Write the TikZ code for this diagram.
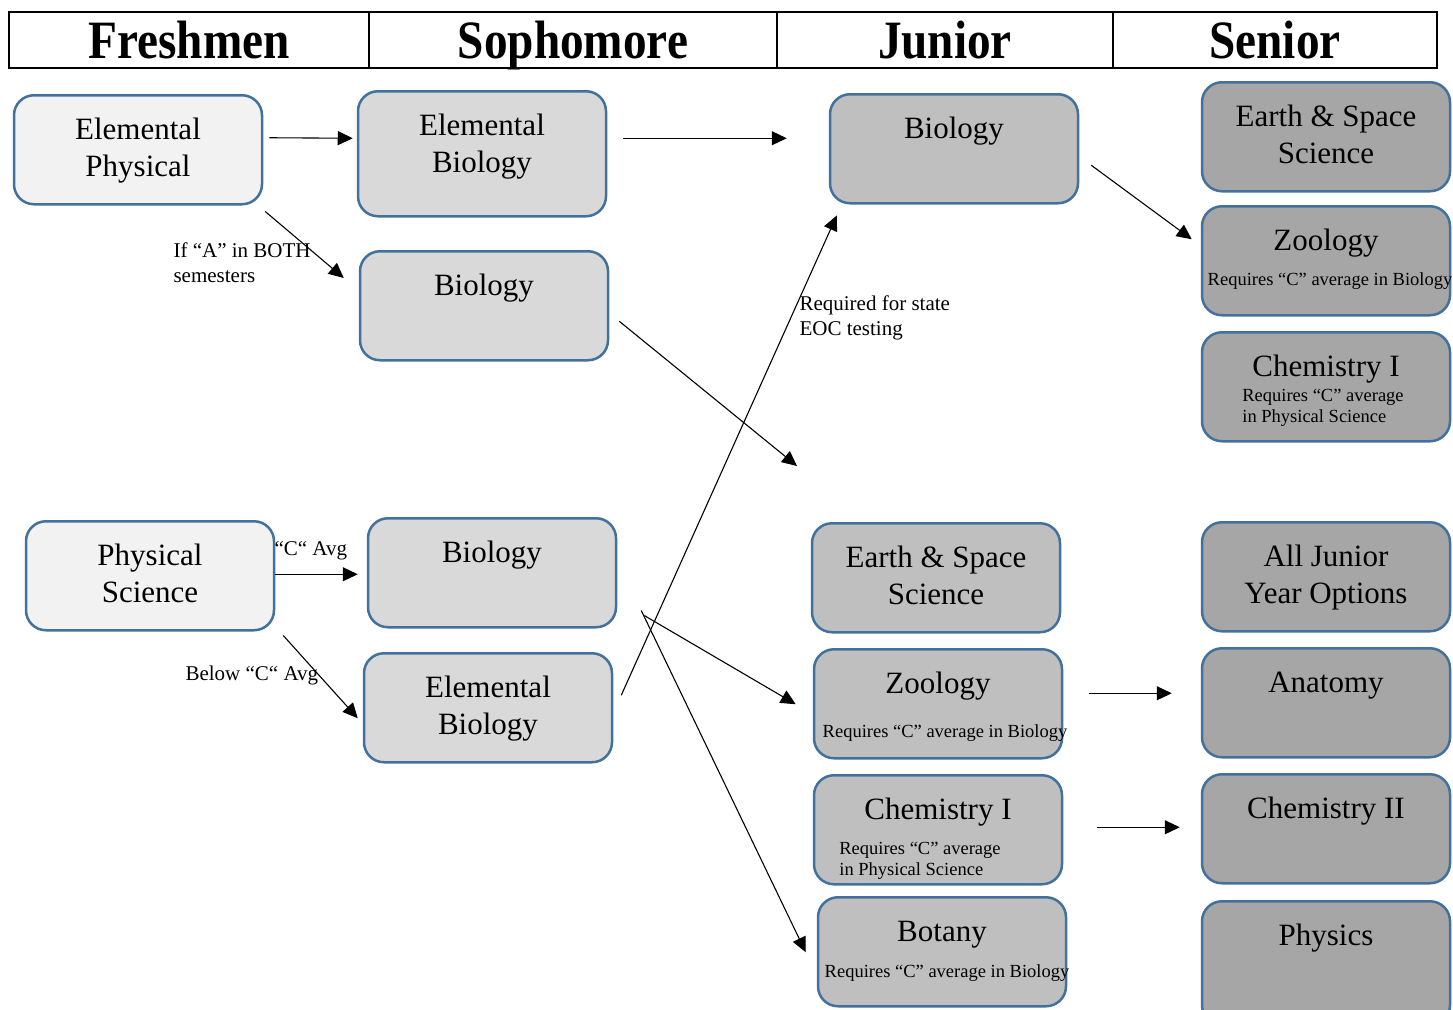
\documentclass[tikz,border=0pt]{standalone}
\usepackage{fontspec}
\setmainfont{Liberation Serif}
\newfontfamily\hdfont[FakeStretch=0.875]{Liberation Serif}
\usepackage{xcolor}
\usepackage{tikz}
\usetikzlibrary{arrows.meta}
\definecolor{boxblue}{HTML}{41719C}
\definecolor{frfill}{HTML}{F2F2F2}
\definecolor{sofill}{HTML}{D9D9D9}
\definecolor{jufill}{HTML}{BFBFBF}
\definecolor{sefill}{HTML}{A6A6A6}
\newcommand{\req}[1]{{\fontsize{18.5}{21}\selectfont #1}}
\newcommand{\boxtxt}[1]{\begin{tabular}[t]{@{}c@{}}#1\end{tabular}}
\tikzset{yr/.style={draw,line width=2pt,minimum height=56pt,inner sep=0pt,text height=46pt,text depth=10pt,font=\hdfont\bfseries\fontsize{54}{60}\selectfont},
crs/.style={draw=boxblue,line width=2.5pt,rounded corners=20pt,minimum width=248pt,inner sep=0pt,text height=44pt,text depth=65pt,anchor=north,font=\fontsize{31}{37}\selectfont},
frsh/.style={crs,fill=frfill},
soph/.style={crs,fill=sofill},
junr/.style={crs,fill=jufill},
senr/.style={crs,fill=sefill},
note/.style={inner sep=0pt,anchor=base west,align=left,font=\fontsize{21}{25}\selectfont}}

\begin{document}
\begin{tikzpicture}[x=1pt,y=-1pt,>={Triangle[length=15pt,width=14pt]},line width=1.1pt]
        \useasboundingbox (0,0) rectangle (1453,1009);

        \node[yr,minimum width=360pt] (hfr) at (189,40) {Freshmen};
        \node[yr,minimum width=408pt] (hso) at (573,40) {Sophomore};
        \node[yr,minimum width=336pt] (hju) at (945,40) {Junior};
        \node[yr,minimum width=324pt] (hse) at (1275,40) {Senior};

        \node[frsh] (fe1) at (138,94) {\boxtxt{Elemental\\Physical}};
        \node[frsh] (fp) at (150,520) {\boxtxt{Physical\\Science}};

        \node[soph,text depth=81pt] (se1) at (482,90) {\boxtxt{Elemental\\Biology}};
        \node[soph] (sb1) at (484,250) {\boxtxt{Biology}};
        \node[soph] (sb2) at (492,517) {\boxtxt{Biology}};
        \node[soph] (se2) at (488,652) {\boxtxt{Elemental\\Biology}};

        \node[junr] (jb) at (954,93) {\boxtxt{Biology}};
        \node[junr] (je) at (936,522) {\boxtxt{Earth \& Space\\Science}};
        \node[junr] (jz) at (938,648) {\boxtxt{Zoology\\[7pt]\makebox[200pt]{\hspace*{14pt}\req{Requires “C” average in Biology}}}};
        \node[junr] (jc) at (938,774) {\boxtxt{Chemistry I\\[-2pt]\req{\begin{tabular}[t]{@{}l@{}}Requires “C” average\\in Physical Science\end{tabular}}\hspace*{36pt}}};
        \node[junr] (jbo) at (942,896) {\boxtxt{Botany\\[-1pt]\makebox[200pt]{\hspace*{10pt}\req{Requires “C” average in Biology}}}};

        \node[senr] (ses) at (1326,81) {\boxtxt{Earth \& Space\\Science}};
        \node[senr] (sz) at (1326,205) {\boxtxt{Zoology\\[-2pt]\makebox[200pt]{\hspace*{8pt}\req{Requires “C” average in Biology}}}};
        \node[senr] (sc1) at (1326,331) {\boxtxt{Chemistry I\\[-12pt]\req{\begin{tabular}[t]{@{}l@{}}Requires “C” average\\in Physical Science\end{tabular}}\hspace*{6pt}}};
        \node[senr] (sa1) at (1326,521) {\boxtxt{All Junior\\Year Options}};
        \node[senr] (sa) at (1326,647) {\boxtxt{Anatomy}};
        \node[senr] (sc2) at (1326,773) {\boxtxt{Chemistry II}};
        \node[senr,text depth=80pt] (sp) at (1326,900) {\boxtxt{Physics}};

        \node[note] (ifa) at (173,282) {If “A” in BOTH\\semesters};
        \node[note] (cavg) at (274,555) {“C“ Avg};
        \node[note] (below) at (185,680) {Below “C“ Avg};
        \node[note] (eoc) at (799,335) {Required for state\\EOC testing};
        \coordinate (gap) at (797,466);

        \draw [->] ([shift={(6,-12)}]fe1.east) to ([shift={(-4,-15.5)}]se1.west);
        \draw [->] ([shift={(16,-15.5)}]se1.east) to ([shift={(-42,-10.5)}]jb.west);
        \draw [->] ([shift={(2,6)}]fe1.south east) to ([shift={(-15,28)}]sb1.north west);
        \draw [->] ([shift={(10,15.5)}]sb1.east) to (gap);
        \draw [->] ([shift={(12,16.5)}]jb.east) to ([shift={(-9,-21.5)}]sz.west);
        \draw [->] ([shift={(0,-1.5)}]fp.east) to ([shift={(-9,1.5)}]sb2.west);
        \draw [->] ([shift={(8,4)}]fp.south east) to ([shift={(-5,10.5)}]se2.west);
        \draw [->] ([shift={(8,-12.5)}]se2.east) to ([shift={(8,11)}]jb.south west);
        \draw [->] ([shift={(27,-13)}]sb2.south east) to ([shift={(-17,0.5)}]jz.west);
        \draw [->] ([shift={(24,-18)}]sb2.south east) to ([shift={(-11,0.5)}]jbo.west);
        \draw [->] ([shift={(26,-10.5)}]jz.east) to ([shift={(-29,-9.5)}]sa.west);
        \draw [->] ([shift={(34,-2.5)}]jc.east) to ([shift={(-21,-1.5)}]sc2.west);
    \end{tikzpicture}
\end{document}
